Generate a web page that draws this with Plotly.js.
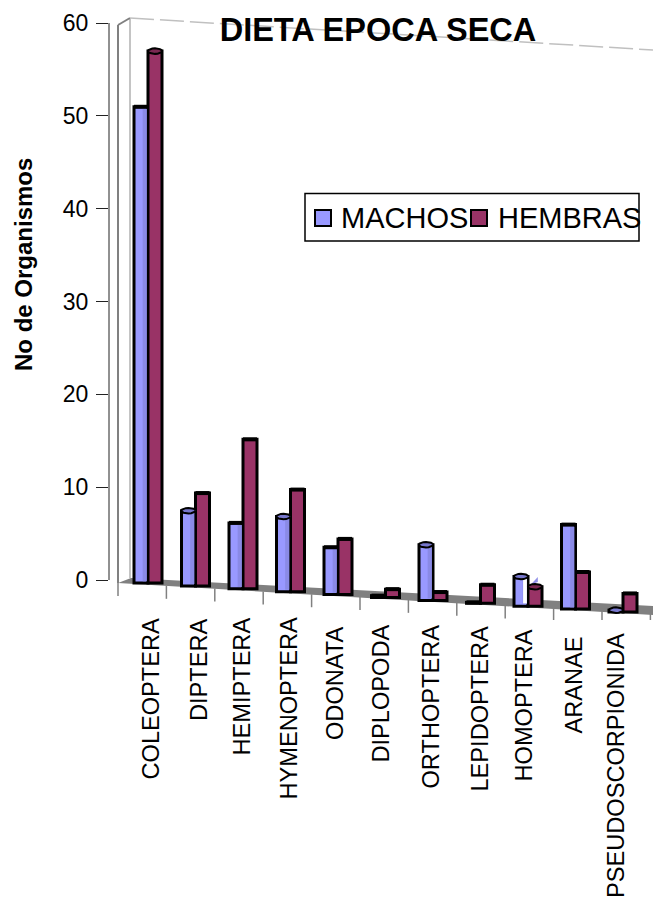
<!DOCTYPE html>
<html>
<head>
<meta charset="utf-8">
<script src="https://cdn.plot.ly/plotly-3.0.1.min.js"></script>
<style>html,body{margin:0;padding:0;background:#fff}</style>
</head>
<body>
<div id="chart" style="width:653px;height:902px"></div>
<script>
// Diet counts per prey order, dry season
const categories = ['COLEOPTERA','DIPTERA','HEMIPTERA','HYMENOPTERA','ODONATA','DIPLOPODA','ORTHOPTERA','LEPIDOPTERA','HOMOPTERA','ARANAE','PSEUDOSCORPIONIDA'];
const seriesNames = ['MACHOS', 'HEMBRAS'];
const machos  = [51.3, 8.1, 7.1, 8.1, 5.1, 0.2, 6.0, 0.1, 3.2, 9.1, 0.2];
const hembras = [57.3, 10.0, 16.1, 11.0, 6.0, 0.9, 0.9, 2.0, 2.1, 4.0, 2.0];
const yTicks = [0, 10, 20, 30, 40, 50, 60];

// Top-face style of each column: e = round cap, b = flat dark band
const capMachos  = ['b','e','b','e','b','b','e','b','e','b','e'];
const capHembras = ['e','b','b','b','b','b','b','b','e','b','b'];

// Category labels follow the floor's perspective, so each has its own placement (page pixels)
const labelCenter = [150.5, 198.5, 241.5, 288.5, 335.5, 380.5, 430.5, 480, 523.5, 573, 615.5];
const labelTop    = [616, 616, 616, 616, 625, 623, 623, 625, 628, 635, 631];

const BLUE = '#9999FF', WINE = '#993366';
const FONT = '"Liberation Sans", Arial, sans-serif';

// Plot frame in page pixels, and the conversions from pixels to axis units
const W = 653, H = 902, L = 109, T = 10, B = 620;
const xPerCat = 47.5, xFirst = 148, yPerUnit = 9.283, yZero = 580;
const X = px => (px - xFirst) / xPerCat;
const Y = py => (yZero - py) / yPerUnit;

// Tilted floor: the base of each group sinks further to the right
const floorAt = i => Y(583 + 2.9 * i);
const xs = categories.map((_, i) => i);
const baseline = xs.map(floorAt);

const barW = 14 / xPerCat;

function capPaths(values, caps, side, fillWanted) {
  const px = [], py = [];
  values.forEach((v, i) => {
    if (caps[i] !== fillWanted) return;
    const cx = i + side * barW / 2, top = baseline[i] + v;
    if (fillWanted === 'e') {
      for (let k = 0; k <= 16; k++) {
        const a = k / 16 * 2 * Math.PI;
        px.push(cx + Math.cos(a) * barW * 0.5);
        py.push(top + Math.sin(a) * 0.3);
      }
    } else {
      px.push(cx - barW / 2, cx + barW / 2);
      py.push(top, top);
    }
    px.push(null); py.push(null);
  });
  return {px, py};
}

// Darker strip on the right of each blue column gives it a rounded look
function shadeStrips() {
  const px = [], py = [];
  machos.forEach((v, i) => {
    if (v < 1) return;
    const cx = i - barW / 2, y0 = baseline[i] + 0.2, y1 = baseline[i] + v - 0.2;
    px.push(cx + barW * 0.12, cx + barW * 0.42, cx + barW * 0.42, cx + barW * 0.12, cx + barW * 0.12, null);
    py.push(y0, y0, y1, y1, y0, null);
  });
  return {px, py};
}

// Axis tick marks hanging from the front edge of the floor
const tickX = [], tickY = [];
for (let j = 0; j <= 11; j++) {
  const px = 118 + 48.4 * j, py = 583 + 0.058 * (px - 118);
  tickX.push(X(px), X(px), null);
  tickY.push(Y(py), Y(py + 13), null);
}

const strips = shadeStrips();
const capE_m = capPaths(machos, capMachos, -1, 'e');
const capE_f = capPaths(hembras, capHembras, 1, 'e');
const capB_m = capPaths(machos, capMachos, -1, 'b');
const capB_f = capPaths(hembras, capHembras, 1, 'b');
const hoI = categories.indexOf('HOMOPTERA');

const traces = [
  {type:'bar', name:seriesNames[0], x:xs, y:machos, base:baseline,
   marker:{color:BLUE, line:{color:'#000', width:3}}},
  {type:'bar', name:seriesNames[1], x:xs, y:hembras, base:baseline,
   marker:{color:WINE, line:{color:'#000', width:3}}},
  {type:'scatter', mode:'lines', x:strips.px, y:strips.py, fill:'toself', fillcolor:'#8A8AE6',
   line:{width:0}, hoverinfo:'skip'},
  // pale side of the short blue HOMOPTERA column and the sliver behind it
  {type:'scatter', mode:'lines',
   x:[hoI - barW*0.35, hoI - barW*0.08, hoI - barW*0.08, hoI - barW*0.35, hoI - barW*0.35],
   y:[baseline[hoI]+0.3, baseline[hoI]+0.3, baseline[hoI]+machos[hoI]-0.2, baseline[hoI]+machos[hoI]-0.2, baseline[hoI]+0.3],
   fill:'toself', fillcolor:'#fff', line:{width:0}, hoverinfo:'skip'},
  {type:'scatter', mode:'lines',
   x:[hoI + barW*0.2, hoI + barW*0.7, hoI + barW*0.7, hoI + barW*0.2],
   y:[baseline[hoI]+hembras[hoI]+0.25, baseline[hoI]+hembras[hoI]+0.5, baseline[hoI]+hembras[hoI]+1.05, baseline[hoI]+hembras[hoI]+0.25],
   fill:'toself', fillcolor:'#9090E8', line:{width:0}, hoverinfo:'skip'},
  {type:'scatter', mode:'lines', x:capB_m.px, y:capB_m.py, line:{color:'#000', width:4}, hoverinfo:'skip'},
  {type:'scatter', mode:'lines', x:capB_f.px, y:capB_f.py, line:{color:'#000', width:4}, hoverinfo:'skip'},
  {type:'scatter', mode:'lines', x:capE_m.px, y:capE_m.py, fill:'toself', fillcolor:'#7777CC',
   line:{color:'#000', width:2}, hoverinfo:'skip'},
  {type:'scatter', mode:'lines', x:capE_f.px, y:capE_f.py, fill:'toself', fillcolor:'#7A2852',
   line:{color:'#000', width:2}, hoverinfo:'skip'},
  {type:'scatter', mode:'lines', x:tickX, y:tickY, cliponaxis:false,
   line:{color:'#808080', width:1.5}, hoverinfo:'skip'}
];

const wall = (x0, y0, x1, y1, color, width, dash) => ({
  type:'line', layer:'below', xref:'x', yref:'y',
  x0:X(x0), y0:Y(y0), x1:X(x1), y1:Y(y1),
  line:{color, width, dash: dash || 'solid'}
});

// Legend panel, drawn in page pixels
const pxBox = (x0, y0, x1, y1, fill, lineColor, lineWidth) => ({
  type:'rect', layer:'above', xref:'paper', yref:'paper',
  x0:(x0 - L) / (W - L), x1:(x1 - L) / (W - L),
  y0:(B - y1) / (B - T), y1:(B - y0) / (B - T),
  fillcolor:fill, line:{color:lineColor, width:lineWidth}
});
const legendLabel = (text, px, py) => ({
  text, showarrow:false, xref:'paper', yref:'paper', xanchor:'left', yanchor:'middle',
  x:(px - L) / (W - L), y:(B - py) / (B - T),
  font:{family:FONT, size:29, color:'#000'}
});
const categoryLabel = (text, i) => ({
  text, showarrow:false, textangle:-90, xref:'x', yref:'paper', xanchor:'center', yanchor:'top',
  x:X(labelCenter[i]), y:(B - labelTop[i]) / (B - T),
  font:{family:FONT, size:23.6, color:'#000'}
});

const shapes = [
  // floor slab
  {type:'path', layer:'below', xref:'x', yref:'y', line:{width:0}, fillcolor:'#808080',
   path:`M${X(118)},${Y(583)} L${X(131)},${Y(578)} L${X(653)},${Y(606)} L${X(653)},${Y(615)} Z`},
  // side wall and back wall edges
  wall(118, 25, 118, 583, '#808080', 2),
  wall(130, 18, 130, 578, '#c4c4c4', 2),
  wall(118, 25, 130, 18, '#808080', 2),
  wall(130, 18, 653, 50, '#c0c0c0', 1.5, '24px,6px'),
  // value axis line
  {type:'line', layer:'above', xref:'paper', yref:'y', x0:0, x1:0, y0:0, y1:60, line:{color:'#222', width:1}},
  pxBox(305, 193.5, 639, 241, '#fff', '#000', 1.5),
  pxBox(315, 210, 331, 226, BLUE, '#000', 2),
  pxBox(471, 210, 487, 226, WINE, '#000', 2)
];

const layout = {
  width:W, height:H, margin:{l:L, r:0, t:T, b:H-B, pad:0},
  paper_bgcolor:'#fff', plot_bgcolor:'rgba(0,0,0,0)',
  font:{family:FONT, color:'#000'},
  barmode:'group', bargap:1 - 2 * barW, bargroupgap:0,
  title:{text:'<b>DIETA EPOCA SECA</b>', font:{family:FONT, size:32.5, color:'#000'},
         xref:'paper', x:(378 - L) / (W - L), xanchor:'center',
         yref:'container', y:1 - 30 / H, yanchor:'middle'},
  xaxis:{range:[X(L), X(W)], tickmode:'array', tickvals:xs, ticktext:categories, showticklabels:false,
         ticks:'', showgrid:false, zeroline:false, showline:false},
  yaxis:{range:[Y(B), Y(T)], tickmode:'array', tickvals:yTicks, ticks:'outside', ticklen:12,
         tickcolor:'#222', tickwidth:1, showgrid:false, zeroline:false, showline:false,
         ticklabelstandoff:3, tickfont:{family:FONT, size:23, color:'#000'}},
  annotations:[
    {text:'<b>No de Organismos</b>', textangle:-90, showarrow:false, font:{family:FONT, size:24, color:'#000'},
     xref:'paper', yref:'paper', x:(23 - L) / (W - L), y:(B - 265) / (B - T), xanchor:'center', yanchor:'middle'},
    legendLabel(seriesNames[0], 339, 218),
    legendLabel(seriesNames[1], 496, 218),
    ...categories.map(categoryLabel)
  ],
  shapes,
  showlegend:false
};

Plotly.newPlot('chart', traces, layout, {staticPlot:true, displayModeBar:false});
</script>
</body>
</html>
